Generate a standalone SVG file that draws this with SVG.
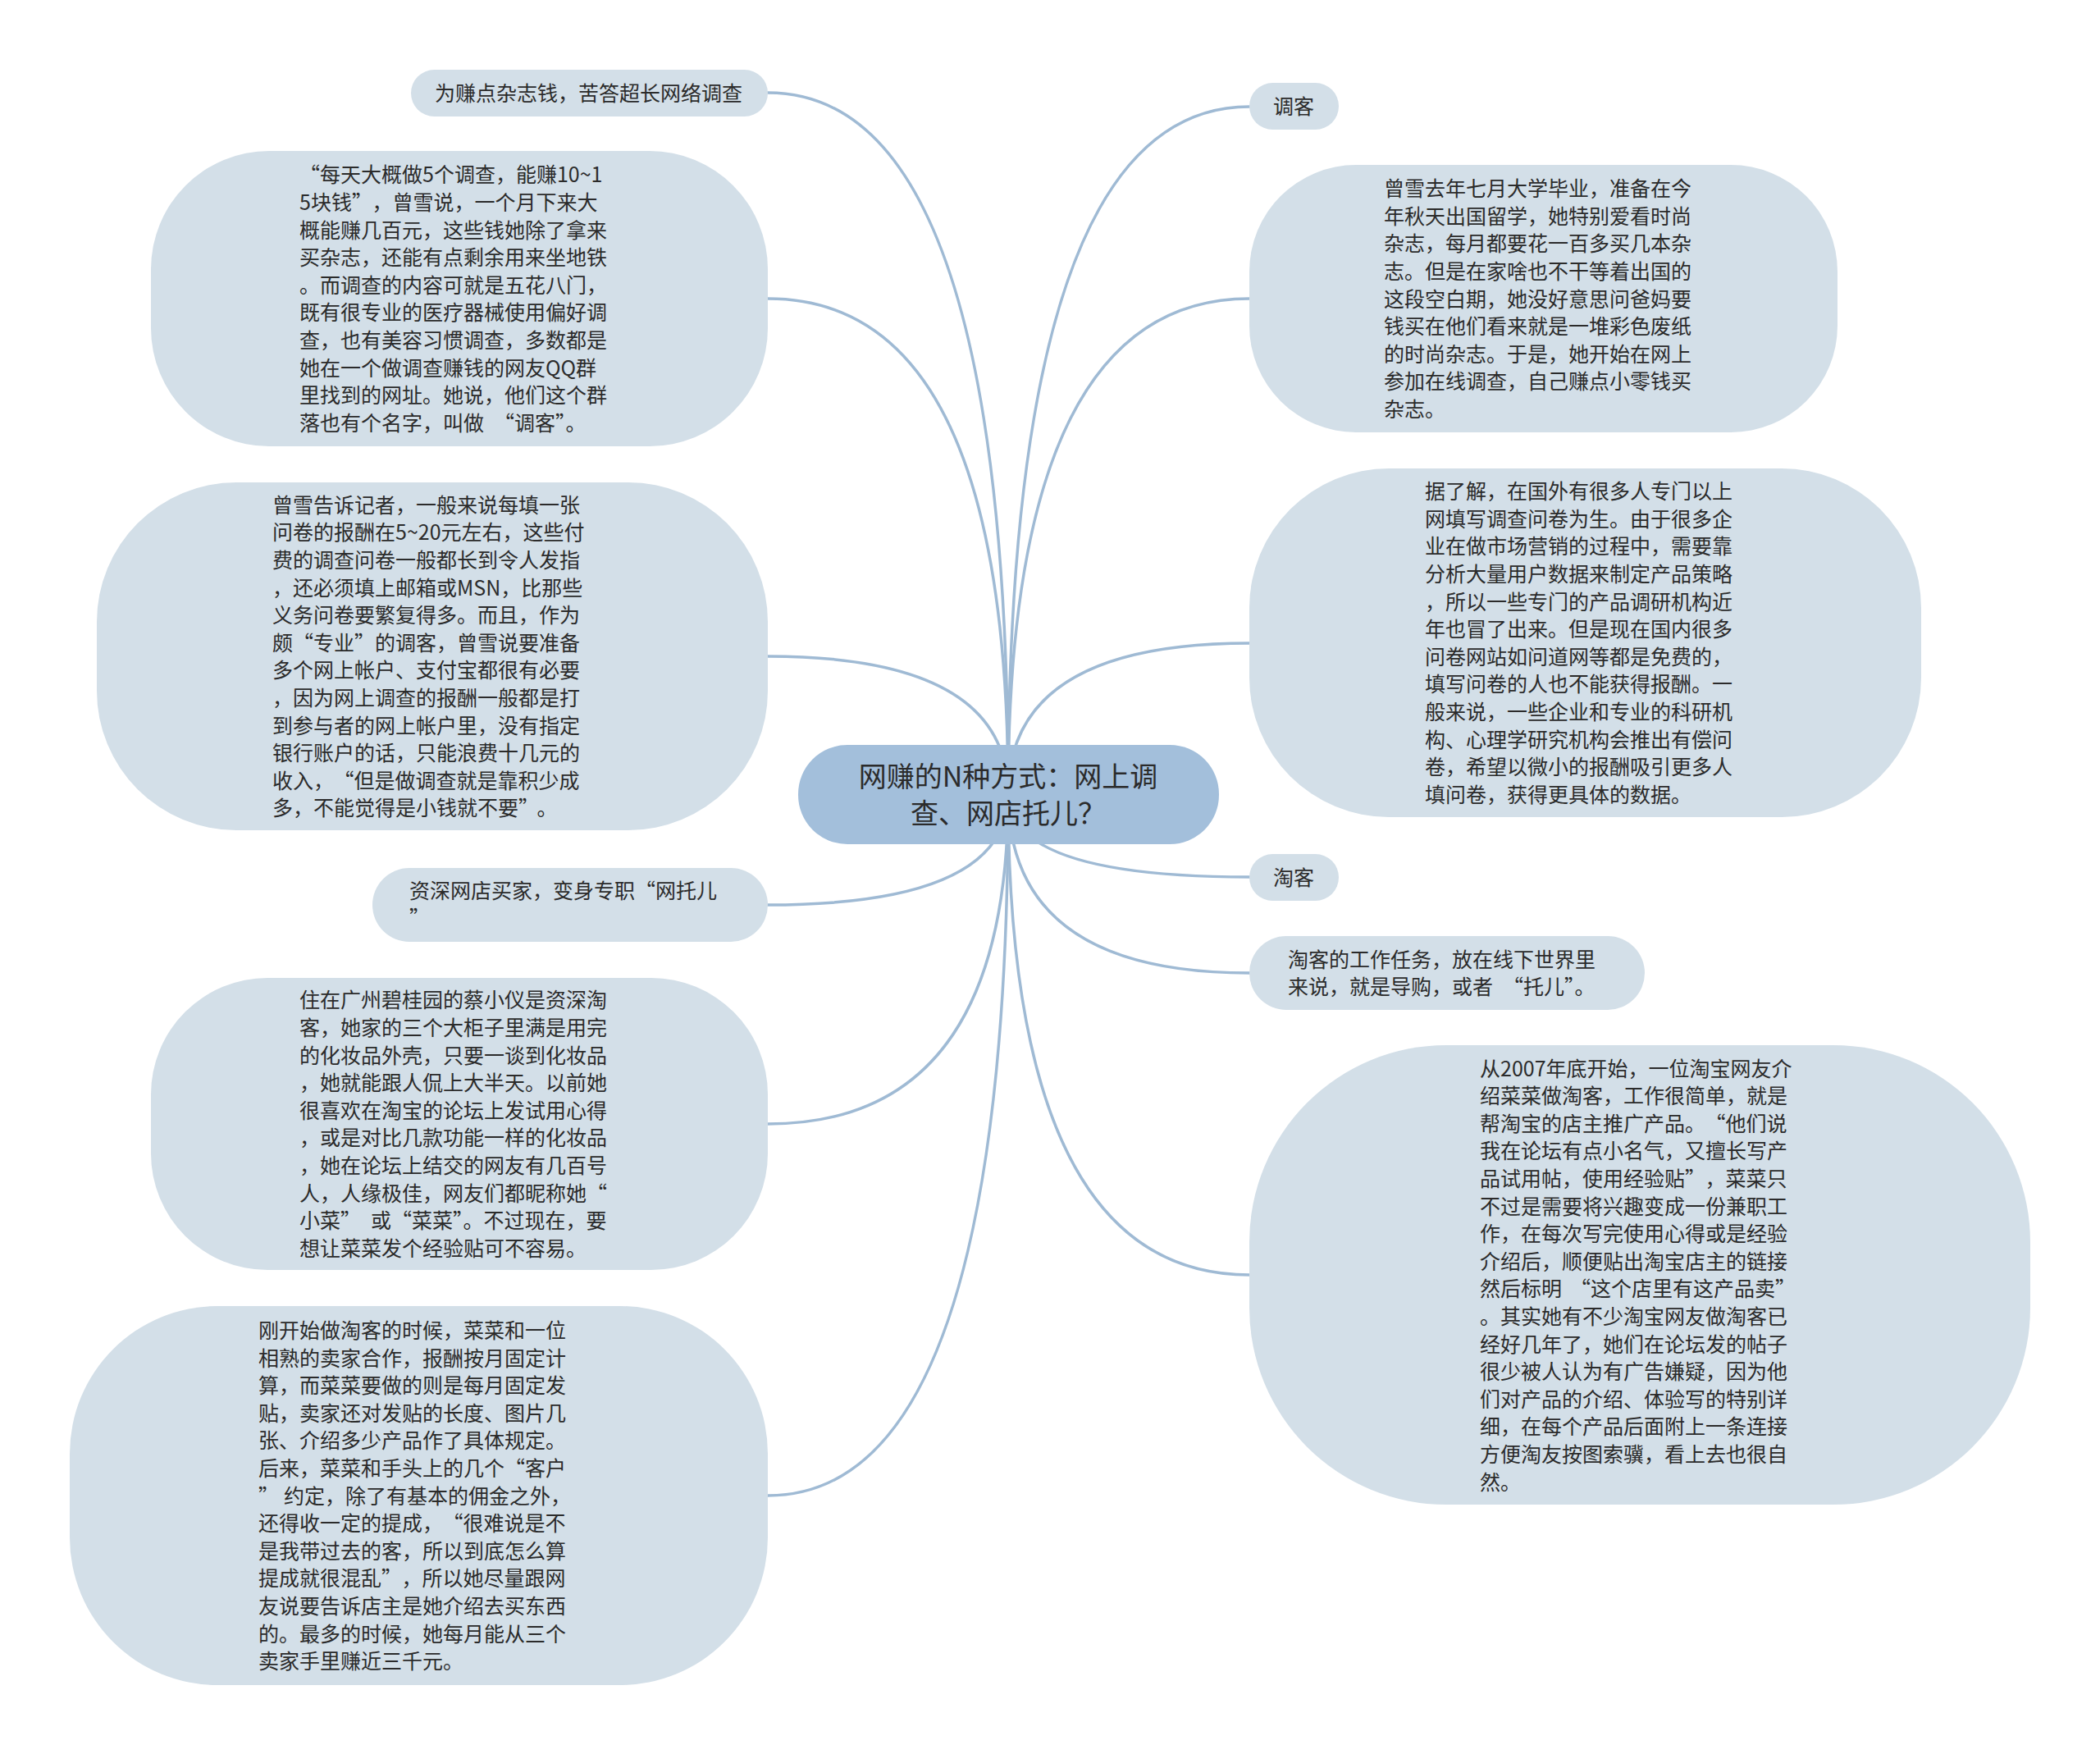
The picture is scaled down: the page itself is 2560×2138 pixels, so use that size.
<svg xmlns="http://www.w3.org/2000/svg" width="2560" height="2138" viewBox="0 0 2560 2138">
<style>
.bg{fill:#ffffff}
.node rect{fill:#d3dfe8}
#n-root rect{fill:#a3bfdb}
text{font-family:"Noto Sans CJK SC","Noto Sans",sans-serif;font-size:25px;fill:#2b2b2b}
#n-root text{font-size:34px}
.edges path{fill:none;stroke:#9fbad4;stroke-width:3.5;stroke-linecap:round}
</style>
<rect class="bg" x="0" y="0" width="2560" height="2138"/>
<g class="edges" id="connectors">
<path d="M1229 968 Q1229 113 936 113"/>
<path d="M1229 968 Q1229 364 936 364"/>
<path d="M1229 968 Q1229 800 936 800"/>
<path d="M1229 968 Q1229 1103 936 1103"/>
<path d="M1229 968 Q1229 1370 936 1370"/>
<path d="M1229 968 Q1229 1823 936 1823"/>
<path d="M1229 968 Q1229 130 1523 130"/>
<path d="M1229 968 Q1229 364 1523 364"/>
<path d="M1229 968 Q1229 784 1523 784"/>
<path d="M1229 968 Q1229 1069 1523 1069"/>
<path d="M1229 968 Q1229 1186 1523 1186"/>
<path d="M1229 968 Q1229 1554 1523 1554"/>
</g>
<g id="n-root" class="node">
<rect x="973" y="908" width="513" height="121" rx="60" ry="60"/>
<text x="1229" y="959" text-anchor="middle"><tspan x="1229" y="959">网赚的N种方式：网上调</tspan><tspan x="1229" y="1004">查、网店托儿？</tspan></text>
</g>
<g id="n-l1" class="node">
<rect x="501" y="85" width="435" height="57" rx="28.5" ry="28.5"/>
<text x="530" y="123">为赚点杂志钱，苦答超长网络调查</text>
</g>
<g id="n-l2" class="node">
<rect x="184" y="184" width="752" height="360" rx="144" ry="144"/>
<text x="365" y="222.3"><tspan x="365" y="222.3">“每天大概做5个调查，能赚10~1</tspan><tspan x="365" dy="33.6">5块钱”<tspan dx="12">，</tspan>曾雪说，一个月下来大</tspan><tspan x="365" dy="33.6">概能赚几百元，这些钱她除了拿来</tspan><tspan x="365" dy="33.6">买杂志，还能有点剩余用来坐地铁</tspan><tspan x="365" dy="33.6">。而调查的内容可就是五花八门，</tspan><tspan x="365" dy="33.6">既有很专业的医疗器械使用偏好调</tspan><tspan x="365" dy="33.6">查，也有美容习惯调查，多数都是</tspan><tspan x="365" dy="33.6">她在一个做调查赚钱的网友QQ群</tspan><tspan x="365" dy="33.6">里找到的网址。她说，他们这个群</tspan><tspan x="365" dy="33.6">落也有个名字，叫做<tspan dx="12">“</tspan>调客”。</tspan></text>
</g>
<g id="n-l3" class="node">
<rect x="118" y="588" width="818" height="424" rx="170" ry="170"/>
<text x="332" y="624.7"><tspan x="332" y="624.7">曾雪告诉记者，一般来说每填一张</tspan><tspan x="332" dy="33.6">问卷的报酬在5~20元左右，这些付</tspan><tspan x="332" dy="33.6">费的调查问卷一般都长到令人发指</tspan><tspan x="332" dy="33.6">，还必须填上邮箱或MSN，比那些</tspan><tspan x="332" dy="33.6">义务问卷要繁复得多。而且，作为</tspan><tspan x="332" dy="33.6">颇“专业”的调客，曾雪说要准备</tspan><tspan x="332" dy="33.6">多个网上帐户、支付宝都很有必要</tspan><tspan x="332" dy="33.6">，因为网上调查的报酬一般都是打</tspan><tspan x="332" dy="33.6">到参与者的网上帐户里，没有指定</tspan><tspan x="332" dy="33.6">银行账户的话，只能浪费十几元的</tspan><tspan x="332" dy="33.6">收入，<tspan dx="12">“</tspan>但是做调查就是靠积少成</tspan><tspan x="332" dy="33.6">多，不能觉得是小钱就不要”<tspan dx="10">。</tspan></tspan></text>
</g>
<g id="n-l4" class="node">
<rect x="454" y="1058" width="482" height="90" rx="45" ry="45"/>
<text x="499" y="1094.5"><tspan x="499" y="1094.5">资深网店买家，变身专职“网托儿</tspan><tspan x="499" dy="33.6">”</tspan></text>
</g>
<g id="n-l5" class="node">
<rect x="184" y="1192" width="752" height="356" rx="142" ry="142"/>
<text x="365" y="1228.3"><tspan x="365" y="1228.3">住在广州碧桂园的蔡小仪是资深淘</tspan><tspan x="365" dy="33.6">客，她家的三个大柜子里满是用完</tspan><tspan x="365" dy="33.6">的化妆品外壳，只要一谈到化妆品</tspan><tspan x="365" dy="33.6">，她就能跟人侃上大半天。以前她</tspan><tspan x="365" dy="33.6">很喜欢在淘宝的论坛上发试用心得</tspan><tspan x="365" dy="33.6">，或是对比几款功能一样的化妆品</tspan><tspan x="365" dy="33.6">，她在论坛上结交的网友有几百号</tspan><tspan x="365" dy="33.6">人，人缘极佳，网友们都昵称她“</tspan><tspan x="365" dy="33.6">小菜”<tspan dx="12">或</tspan>“菜菜”。不过现在，要</tspan><tspan x="365" dy="33.6">想让菜菜发个经验贴可不容易。</tspan></text>
</g>
<g id="n-l6" class="node">
<rect x="85" y="1592" width="851" height="462" rx="180" ry="180"/>
<text x="315" y="1630.9"><tspan x="315" y="1630.9">刚开始做淘客的时候，菜菜和一位</tspan><tspan x="315" dy="33.6">相熟的卖家合作，报酬按月固定计</tspan><tspan x="315" dy="33.6">算，而菜菜要做的则是每月固定发</tspan><tspan x="315" dy="33.6">贴，卖家还对发贴的长度、图片几</tspan><tspan x="315" dy="33.6">张、介绍多少产品作了具体规定。</tspan><tspan x="315" dy="33.6">后来，菜菜和手头上的几个“客户</tspan><tspan x="315" dy="33.6">”<tspan dx="6">约</tspan>定，除了有基本的佣金之外，</tspan><tspan x="315" dy="33.6">还得收一定的提成，<tspan dx="12">“</tspan>很难说是不</tspan><tspan x="315" dy="33.6">是我带过去的客，所以到底怎么算</tspan><tspan x="315" dy="33.6">提成就很混乱”<tspan dx="12">，</tspan>所以她尽量跟网</tspan><tspan x="315" dy="33.6">友说要告诉店主是她介绍去买东西</tspan><tspan x="315" dy="33.6">的。最多的时候，她每月能从三个</tspan><tspan x="315" dy="33.6">卖家手里赚近三千元。</tspan></text>
</g>
<g id="n-r1" class="node">
<rect x="1523" y="101" width="109" height="57" rx="28.5" ry="28.5"/>
<text x="1552" y="139">调客</text>
</g>
<g id="n-r2" class="node">
<rect x="1523" y="201" width="717" height="326" rx="130" ry="130"/>
<text x="1687" y="239.1"><tspan x="1687" y="239.1">曾雪去年七月大学毕业，准备在今</tspan><tspan x="1687" dy="33.6">年秋天出国留学，她特别爱看时尚</tspan><tspan x="1687" dy="33.6">杂志，每月都要花一百多买几本杂</tspan><tspan x="1687" dy="33.6">志。但是在家啥也不干等着出国的</tspan><tspan x="1687" dy="33.6">这段空白期，她没好意思问爸妈要</tspan><tspan x="1687" dy="33.6">钱买在他们看来就是一堆彩色废纸</tspan><tspan x="1687" dy="33.6">的时尚杂志。于是，她开始在网上</tspan><tspan x="1687" dy="33.6">参加在线调查，自己赚点小零钱买</tspan><tspan x="1687" dy="33.6">杂志。</tspan></text>
</g>
<g id="n-r3" class="node">
<rect x="1523" y="571" width="819" height="425" rx="170" ry="170"/>
<text x="1737" y="608.2"><tspan x="1737" y="608.2">据了解，在国外有很多人专门以上</tspan><tspan x="1737" dy="33.6">网填写调查问卷为生。由于很多企</tspan><tspan x="1737" dy="33.6">业在做市场营销的过程中，需要靠</tspan><tspan x="1737" dy="33.6">分析大量用户数据来制定产品策略</tspan><tspan x="1737" dy="33.6">，所以一些专门的产品调研机构近</tspan><tspan x="1737" dy="33.6">年也冒了出来。但是现在国内很多</tspan><tspan x="1737" dy="33.6">问卷网站如问道网等都是免费的，</tspan><tspan x="1737" dy="33.6">填写问卷的人也不能获得报酬。一</tspan><tspan x="1737" dy="33.6">般来说，一些企业和专业的科研机</tspan><tspan x="1737" dy="33.6">构、心理学研究机构会推出有偿问</tspan><tspan x="1737" dy="33.6">卷，希望以微小的报酬吸引更多人</tspan><tspan x="1737" dy="33.6">填问卷，获得更具体的数据。</tspan></text>
</g>
<g id="n-r4" class="node">
<rect x="1523" y="1041" width="109" height="57" rx="28.5" ry="28.5"/>
<text x="1552" y="1079">淘客</text>
</g>
<g id="n-r5" class="node">
<rect x="1523" y="1141" width="482" height="90" rx="45" ry="45"/>
<text x="1570" y="1178.7"><tspan x="1570" y="1178.7">淘客的工作任务，放在线下世界里</tspan><tspan x="1570" dy="33.6">来说，就是导购，或者<tspan dx="12">“</tspan>托儿”。</tspan></text>
</g>
<g id="n-r6" class="node">
<rect x="1523" y="1274" width="952" height="560" rx="240" ry="240"/>
<text x="1804" y="1311.5"><tspan x="1804" y="1311.5">从2007年底开始，一位淘宝网友介</tspan><tspan x="1804" dy="33.6">绍菜菜做淘客，工作很简单，就是</tspan><tspan x="1804" dy="33.6">帮淘宝的店主推广产品。<tspan dx="12">“</tspan>他们说</tspan><tspan x="1804" dy="33.6">我在论坛有点小名气，又擅长写产</tspan><tspan x="1804" dy="33.6">品试用帖，使用经验贴”<tspan dx="12">，</tspan>菜菜只</tspan><tspan x="1804" dy="33.6">不过是需要将兴趣变成一份兼职工</tspan><tspan x="1804" dy="33.6">作，在每次写完使用心得或是经验</tspan><tspan x="1804" dy="33.6">介绍后，顺便贴出淘宝店主的链接</tspan><tspan x="1804" dy="33.6">然后标明<tspan dx="10">“</tspan>这个店里有这产品卖”</tspan><tspan x="1804" dy="33.6">。其实她有不少淘宝网友做淘客已</tspan><tspan x="1804" dy="33.6">经好几年了，她们在论坛发的帖子</tspan><tspan x="1804" dy="33.6">很少被人认为有广告嫌疑，因为他</tspan><tspan x="1804" dy="33.6">们对产品的介绍、体验写的特别详</tspan><tspan x="1804" dy="33.6">细，在每个产品后面附上一条连接</tspan><tspan x="1804" dy="33.6">方便淘友按图索骥，看上去也很自</tspan><tspan x="1804" dy="33.6">然。</tspan></text>
</g>
</svg>
